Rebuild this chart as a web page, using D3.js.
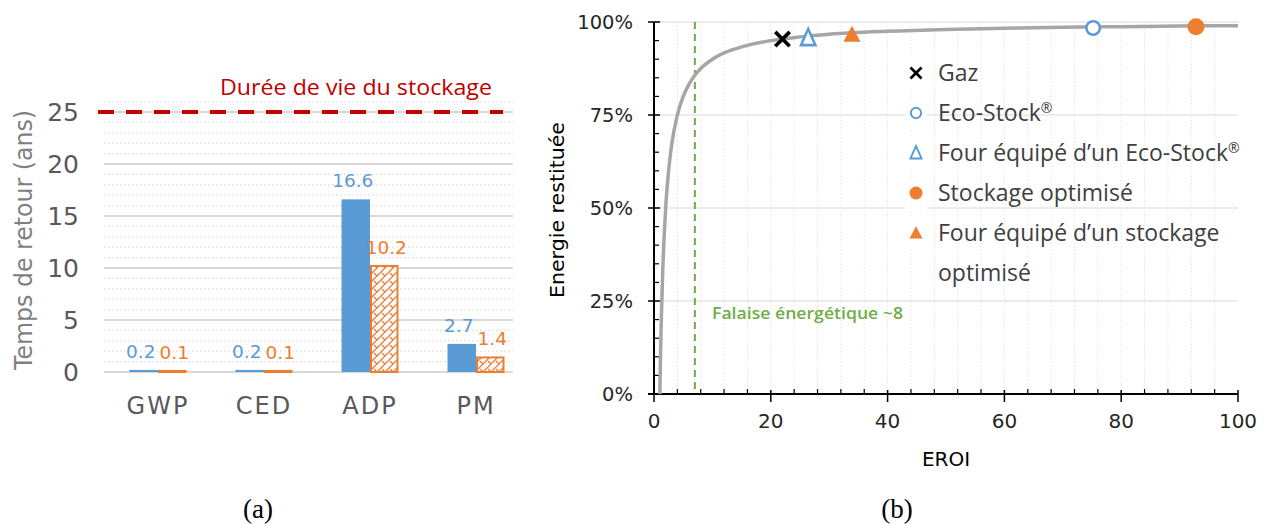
<!DOCTYPE html>
<html><head><meta charset="utf-8">
<script src="https://cdn.jsdelivr.net/npm/d3@7"></script>
<style>body{margin:0;background:#fff}svg{display:block}</style>
</head><body><svg id="c" width="1264" height="524"></svg>
<script>
// ---------- Data: panel (a) ----------
const categories = ["GWP", "CED", "ADP", "PM"];
const seriesNames = ["Eco-Stock", "Stockage optimisé"];
const valuesEcoStock = [0.2, 0.2, 16.6, 2.7];
const valuesOptimise = [0.1, 0.1, 10.2, 1.4];
const valueLabelsEcoStock = ["0.2", "0.2", "16.6", "2.7"];
const valueLabelsOptimise = ["0.1", "0.1", "10.2", "1.4"];
const yTicksA = [0, 5, 10, 15, 20, 25];
const lifetimeYears = 25;
const lifetimeLabel = "Durée de vie du stockage";

// ---------- Data: panel (b) ----------
const curveEroi   = [1, 1.1, 1.25, 1.5, 2, 2.5, 3, 4, 5, 6, 7, 8, 10, 12, 15, 20, 25, 30, 40, 50, 60, 70, 80, 90, 100];
const curveEnergy = [0, 0.09, 0.20, 0.333, 0.50, 0.60, 0.667, 0.75, 0.80, 0.833, 0.857, 0.875, 0.90, 0.917, 0.933, 0.95, 0.96, 0.967, 0.975, 0.98, 0.983, 0.986, 0.9875, 0.989, 0.99];
const markerNames  = ["Gaz", "Eco-Stock®", "Four équipé d’un Eco-Stock®", "Stockage optimisé", "Four équipé d’un stockage optimisé"];
const markerEroi   = [22, 75.2, 26.4, 92.8, 33.9];
const markerEnergy = [0.954, 0.984, 0.957, 0.987, 0.966];
const markerShapes = ["cross", "circleOpen", "triangleOpen", "circle", "triangle"];
const markerColors = ["#000000", "#5B9BD5", "#5B9BD5", "#ED7D31", "#ED7D31"];
const legendLines  = [["Gaz"], ["Eco-Stock®"], ["Four équipé d’un Eco-Stock®"], ["Stockage optimisé"], ["Four équipé d’un stockage", "optimisé"]];
const cliffEroi = 7;
const cliffLabel = "Falaise énergétique ~8";
const xTicksB = [0, 20, 40, 60, 80, 100];
const yTicksB = [0, 0.25, 0.5, 0.75, 1];

const svg = d3.select("#c");
const BLUE = "#5B9BD5", ORANGE = "#ED7D31";
const gothic = "DejaVu Sans";
const calibri = "Open Sans";

// ================= Panel (a) =================
const A = {left: 104, right: 513, top: 112, bottom: 372};
const yA = d3.scaleLinear().domain([0, 25]).range([A.bottom, A.top]);
const x0 = d3.scaleBand().domain(categories).range([105, 529]);
const x1 = d3.scaleBand().domain(seriesNames).range([x0.bandwidth()/2 - 28.5, x0.bandwidth()/2 + 28.5]);

const defs = svg.append("defs");
const pat = defs.append("pattern").attr("id", "hatch").attr("patternUnits", "userSpaceOnUse")
  .attr("width", 8).attr("height", 8);
pat.append("rect").attr("width", 8).attr("height", 8).attr("fill", "#fff");
pat.append("path").attr("d", "M-1,9 L9,-1 M-1,1 L1,-1 M7,9 L9,7 M1,1 L4,4")
  .attr("stroke", ORANGE).attr("stroke-width", 1.3).attr("fill", "none");

const gA = svg.append("g");
const minorA = d3.range(1, 27).filter(v => v % 5 !== 0);
gA.selectAll("line.minor").data(minorA).join("line")
  .attr("x1", A.left).attr("x2", A.right).attr("y1", d => yA(d)).attr("y2", d => yA(d))
  .attr("stroke", "#e3e3e3").attr("stroke-width", 1.2).attr("stroke-dasharray", "2,2");
gA.selectAll("line.major").data(yTicksA).join("line")
  .attr("x1", A.left).attr("x2", A.right).attr("y1", d => yA(d)).attr("y2", d => yA(d))
  .attr("stroke", "#d9d9d9").attr("stroke-width", 2);
gA.selectAll("text.yt").data(yTicksA).join("text")
  .attr("x", 79).attr("y", d => yA(d) + 9).attr("text-anchor", "end")
  .attr("font-family", gothic).attr("font-size", 25).attr("fill", "#595959").text(d => d);
gA.append("text").attr("transform", `translate(32,${(110+370)/2}) rotate(-90)`)
  .attr("text-anchor", "middle").attr("font-family", gothic).attr("font-size", 24)
  .attr("fill", "#7f7f7f").attr("textLength", 260).attr("lengthAdjust", "spacingAndGlyphs")
  .text("Temps de retour (ans)");
const groups = gA.selectAll("g.grp").data(categories).join("g")
  .attr("transform", d => `translate(${x0(d)},0)`);
groups.append("rect")
  .attr("x", x1(seriesNames[0])).attr("width", x1.bandwidth())
  .attr("y", (d, i) => yA(valuesEcoStock[i])).attr("height", (d, i) => yA(0) - yA(valuesEcoStock[i]))
  .attr("fill", BLUE);
groups.append("rect")
  .attr("x", x1(seriesNames[1]) + 1).attr("width", x1.bandwidth() - 2)
  .attr("y", (d, i) => yA(valuesOptimise[i])).attr("height", (d, i) => yA(0) - yA(valuesOptimise[i]))
  .attr("fill", "url(#hatch)").attr("stroke", ORANGE).attr("stroke-width", 2);
groups.append("text")
  .attr("x", x1(seriesNames[0]) + x1.bandwidth()/2 - 3)
  .attr("y", (d, i) => yA(valuesEcoStock[i]) - 12)
  .attr("text-anchor", "middle").attr("font-family", gothic).attr("font-size", 18.5)
  .attr("fill", BLUE).text((d, i) => valueLabelsEcoStock[i]);
groups.append("text")
  .attr("x", x1(seriesNames[1]) + x1.bandwidth()/2 + 2)
  .attr("y", (d, i) => yA(valuesOptimise[i]) - 12)
  .attr("text-anchor", "middle").attr("font-family", gothic).attr("font-size", 18.5)
  .attr("fill", ORANGE).text((d, i) => valueLabelsOptimise[i]);
gA.selectAll("text.cat").data(categories).join("text")
  .attr("x", d => x0(d) + x0.bandwidth()/2).attr("y", 414)
  .attr("text-anchor", "middle").attr("font-family", gothic).attr("font-size", 24)
  .attr("letter-spacing", 2).attr("fill", "#595959").text(d => d);
gA.append("line").attr("x1", 98).attr("x2", 503).attr("y1", yA(lifetimeYears)).attr("y2", yA(lifetimeYears))
  .attr("stroke", "#C00000").attr("stroke-width", 4).attr("stroke-dasharray", "16,12");
gA.append("text").attr("x", 220).attr("y", 95).attr("font-family", calibri).attr("font-size", 22)
  .attr("fill", "#C00000").attr("textLength", 272).attr("lengthAdjust", "spacingAndGlyphs")
  .text(lifetimeLabel);

// ================= Panel (b) =================
const B = {left: 654, right: 1238, top: 22, bottom: 394};
const xB = d3.scaleLinear().domain([0, 100]).range([B.left, B.right]);
const yB = d3.scaleLinear().domain([0, 1]).range([B.bottom, B.top]);
const gB = svg.append("g");

gB.selectAll("line.vg").data(d3.range(4, 100, 4)).join("line")
  .attr("x1", d => xB(d)).attr("x2", d => xB(d)).attr("y1", B.top).attr("y2", B.bottom)
  .attr("stroke", "#e4e4e4").attr("stroke-width", 1).attr("stroke-dasharray", "1.5,2");
gB.selectAll("line.hg").data(yTicksB.slice(1)).join("line")
  .attr("x1", B.left).attr("x2", B.right).attr("y1", d => yB(d)).attr("y2", d => yB(d))
  .attr("stroke", "#ececec").attr("stroke-width", 2);

gB.append("line").attr("x1", B.left).attr("x2", B.left).attr("y1", B.top).attr("y2", B.bottom)
  .attr("stroke", "#000").attr("stroke-width", 2);
gB.append("line").attr("x1", B.left - 6).attr("x2", B.right).attr("y1", B.bottom).attr("y2", B.bottom)
  .attr("stroke", "#000").attr("stroke-width", 2);
gB.selectAll("line.ymaj").data(yTicksB).join("line")
  .attr("x1", B.left - 6).attr("x2", B.left + 6).attr("y1", d => yB(d)).attr("y2", d => yB(d))
  .attr("stroke", "#000").attr("stroke-width", 1.5);
gB.selectAll("line.ymin").data(d3.range(0.05, 1, 0.05).filter(v => Math.abs(v*4 - Math.round(v*4)) > 1e-6)).join("line")
  .attr("x1", B.left).attr("x2", B.left + 5).attr("y1", d => yB(d)).attr("y2", d => yB(d))
  .attr("stroke", "#000").attr("stroke-width", 1.2);
gB.selectAll("text.yt").data(yTicksB).join("text")
  .attr("x", 633).attr("y", d => yB(d) + 7).attr("text-anchor", "end")
  .attr("font-family", gothic).attr("font-size", 19.5).attr("fill", "#262626")
  .text(d3.format(".0%"));
gB.selectAll("line.xmaj").data(xTicksB).join("line")
  .attr("x1", d => xB(d)).attr("x2", d => xB(d)).attr("y1", B.bottom - 4).attr("y2", B.bottom + 8)
  .attr("stroke", "#000").attr("stroke-width", 1.5);
gB.selectAll("line.xmin").data(d3.range(4, 100, 4).filter(v => v % 20 !== 0)).join("line")
  .attr("x1", d => xB(d)).attr("x2", d => xB(d)).attr("y1", B.bottom - 5).attr("y2", B.bottom)
  .attr("stroke", "#000").attr("stroke-width", 1.2);
gB.selectAll("text.xt").data(xTicksB).join("text")
  .attr("x", d => xB(d)).attr("y", 428).attr("text-anchor", "middle")
  .attr("font-family", gothic).attr("font-size", 20).attr("fill", "#262626").text(d => d);
gB.append("text").attr("x", (B.left + B.right)/2).attr("y", 466).attr("text-anchor", "middle")
  .attr("font-family", gothic).attr("font-size", 20).attr("fill", "#000").text("EROI");
gB.append("text").attr("transform", `translate(564,210) rotate(-90)`).attr("text-anchor", "middle")
  .attr("font-family", gothic).attr("font-size", 20).attr("fill", "#000")
  .attr("textLength", 176).attr("lengthAdjust", "spacingAndGlyphs").text("Energie  restituée");

gB.append("line").attr("x1", xB(cliffEroi)).attr("x2", xB(cliffEroi)).attr("y1", B.top).attr("y2", B.bottom)
  .attr("stroke", "#70AD47").attr("stroke-width", 2).attr("stroke-dasharray", "7,5");
gB.append("text").attr("x", 712).attr("y", 319).attr("font-family", calibri).attr("font-weight", 600)
  .attr("font-size", 16).attr("fill", "#70AD47").attr("textLength", 191).attr("lengthAdjust", "spacingAndGlyphs")
  .text(cliffLabel);

const curvePts = curveEroi.map((e, i) => [e, curveEnergy[i]]);
gB.append("path").datum(curvePts)
  .attr("d", d3.line().x(d => xB(d[0])).y(d => yB(d[1])).curve(d3.curveMonotoneX))
  .attr("fill", "none").attr("stroke", "#A6A6A6").attr("stroke-width", 3.5);

function drawMarker(g, shape, color, cx, cy, s) {
  if (shape === "cross") {
    const c = s * 0.85;
    g.append("path").attr("d", `M${cx-c},${cy-c}L${cx+c},${cy+c}M${cx-c},${cy+c}L${cx+c},${cy-c}`)
      .attr("stroke", color).attr("stroke-width", s * 0.42).attr("fill", "none");
  } else if (shape === "circle" || shape === "circleOpen") {
    const open = shape === "circleOpen";
    g.append("circle").attr("cx", cx).attr("cy", cy).attr("r", open ? s * 0.8 : s)
      .attr("fill", open ? "#fff" : color).attr("stroke", color).attr("stroke-width", open ? s * 0.3 : 0);
  } else {
    const open = shape === "triangleOpen";
    const h = s * 1.05;
    const w = open ? s * 0.85 : s;
    g.append("path").attr("d", `M${cx},${cy-h}L${cx+w},${cy+h*0.8}L${cx-w},${cy+h*0.8}Z`)
      .attr("fill", open ? "#fff" : color).attr("stroke", color).attr("stroke-width", open ? s * 0.3 : 0)
      .attr("stroke-linejoin", "miter");
  }
}
const gM = gB.append("g");
markerNames.forEach((n, i) => {
  drawMarker(gM, markerShapes[i], markerColors[i], xB(markerEroi[i]), yB(markerEnergy[i]), 8.5);
});

const gL = gB.append("g");
const rowY = [73, 113, 153, 193, 233];
legendLines.forEach((lines, i) => {
  gL.append("rect").attr("x", 905).attr("y", rowY[i] - 16).attr("width", 22).attr("height", 32).attr("fill", "#fff");
  drawMarker(gL, markerShapes[i], markerColors[i], 916, rowY[i], 6.5);
  lines.forEach((t, j) => {
    const txt = gL.append("text").attr("x", 938).attr("y", rowY[i] + 8 + j * 40)
      .attr("font-family", calibri).attr("font-size", 23).attr("fill", "#404040");
    const parts = t.split("®");
    parts.forEach((p, k) => {
      txt.append("tspan").text(p);
      if (k < parts.length - 1) txt.append("tspan").attr("font-size", 14).attr("dy", -8).text("®")
        .clone(true).text("").attr("dy", 8);
    });
  });
});

svg.append("text").attr("x", 258).attr("y", 518).attr("text-anchor", "middle")
  .attr("font-family", "Liberation Serif").attr("font-size", 27).attr("fill", "#000").text("(a)");
svg.append("text").attr("x", 897).attr("y", 518).attr("text-anchor", "middle")
  .attr("font-family", "Liberation Serif").attr("font-size", 27).attr("fill", "#000").text("(b)");
</script></body></html>
